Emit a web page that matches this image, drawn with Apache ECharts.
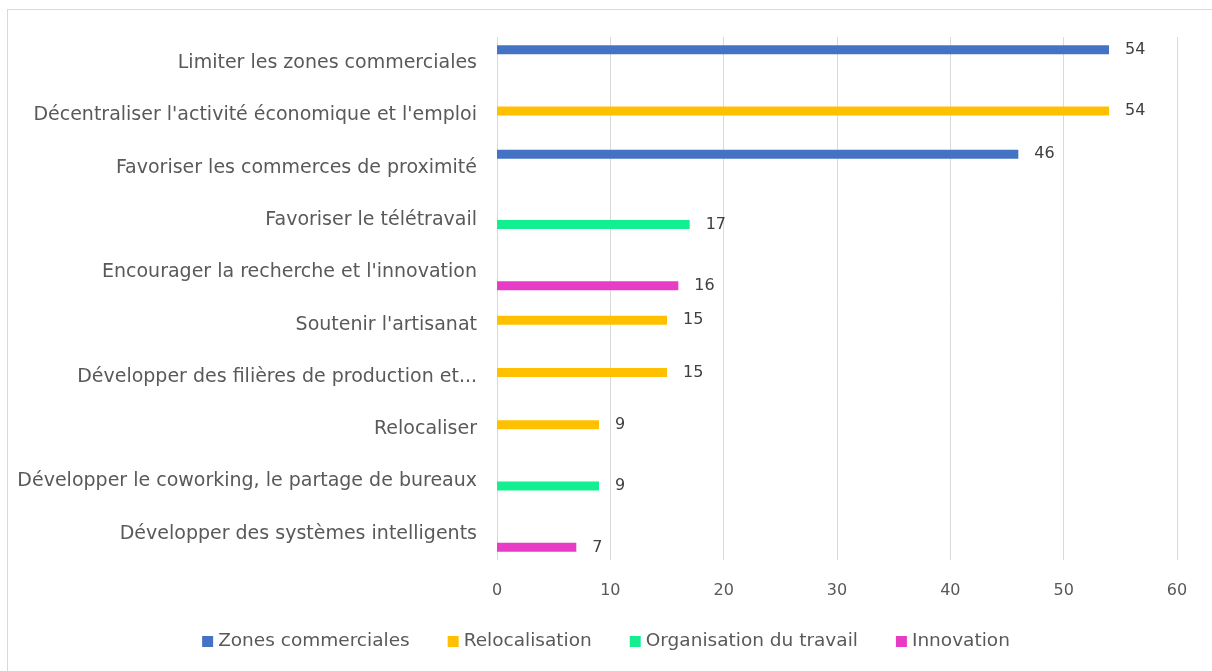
<!DOCTYPE html>
<html>
<head>
<meta charset="utf-8">
<script src="https://cdn.jsdelivr.net/npm/echarts@6/dist/echarts.min.js"></script>
<style>
  html, body { margin: 0; padding: 0; background: #fff; }
  #frame {
    position: absolute; left: 7px; top: 9px; width: 1210px; height: 670px;
    border: 1px solid #d9d9d9; box-sizing: border-box;
  }
  #chart { position: absolute; left: 0; top: 0; width: 1212px; height: 671px; }
</style>
</head>
<body>
<div id="frame"></div>
<div id="chart"></div>
<script>
const categories = [
  'Limiter les zones commerciales',
  "Décentraliser l'activité économique et l'emploi",
  'Favoriser les commerces de proximité',
  'Favoriser le télétravail',
  "Encourager la recherche et l'innovation",
  "Soutenir l'artisanat",
  'Développer des filières de production et...',
  'Relocaliser',
  'Développer le coworking, le partage de bureaux',
  'Développer des systèmes intelligents'
]
const seriesNames = ['Zones commerciales', 'Relocalisation', 'Organisation du travail', 'Innovation']
const zonesCommerciales = [54, null, 46, null, null, null, null, null, null, null]
const relocalisation = [null, 54, null, null, null, 15, 15, 9, null, null]
const organisationTravail = [null, null, null, 17, null, null, null, null, 9, null]
const innovation = [null, null, null, null, 16, null, null, null, null, 7]
const xTicks = [0, 60, 10]

const colors = ['#4472c4', '#ffc000', '#13ee90', '#e93cc6']
const seriesData = [zonesCommerciales, relocalisation, organisationTravail, innovation]
const font = '"DejaVu Sans", sans-serif'

const chart = echarts.init(document.getElementById('chart'))
chart.setOption({
  animation: false,
  textStyle: { fontFamily: font },
  legend: {
    bottom: 15,
    left: 'center',
    itemWidth: 11,
    itemHeight: 11,
    itemGap: 38,
    icon: 'rect',
    textStyle: { fontSize: 18.5, color: '#595959', fontFamily: font },
    data: seriesNames
  },
  grid: { left: 497, right: 35, top: 37, bottom: 111, containLabel: false },
  xAxis: {
    type: 'value',
    min: xTicks[0],
    max: xTicks[1],
    interval: xTicks[2],
    axisLine: { show: false },
    axisTick: { show: false },
    splitLine: { lineStyle: { color: '#d9d9d9', width: 1 } },
    axisLabel: { color: '#595959', fontSize: 16, margin: 23, fontFamily: font }
  },
  yAxis: {
    type: 'category',
    inverse: true,
    data: categories,
    axisLine: { show: false },
    axisTick: { show: false },
    axisLabel: { color: '#595959', fontSize: 19, margin: 20, fontFamily: font }
  },
  series: seriesNames.map((name, i) => ({
    name: name,
    type: 'bar',
    data: seriesData[i],
    barWidth: 9,
    barGap: '0%',
    itemStyle: { color: colors[i] },
    label: {
      show: true,
      position: 'right',
      distance: 16,
      color: '#404040',
      fontSize: 16,
      fontFamily: font
    }
  }))
})
</script>
</body>
</html>
